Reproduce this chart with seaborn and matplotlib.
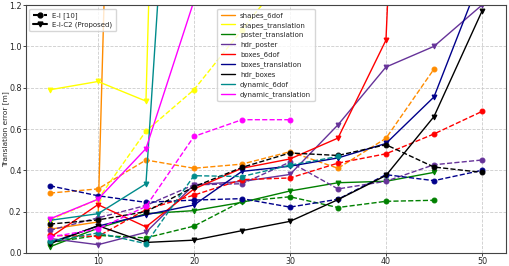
import numpy as np
import pandas as pd
import matplotlib
matplotlib.use("Agg")
import matplotlib.pyplot as plt
from matplotlib.lines import Line2D
import seaborn as sns

# x positions (shared), series cut where they stop
X = [5, 10, 15, 20, 25, 30, 35, 40, 45, 50]

datasets = ['shapes_6dof', 'shapes_translation', 'poster_translation', 'hdr_poster',
            'boxes_6dof', 'boxes_translation', 'hdr_boxes', 'dynamic_6dof',
            'dynamic_translation']
colors = ['darkorange', 'yellow', 'green', 'rebeccapurple', 'red', 'darkblue',
          'black', 'darkcyan', 'magenta']

# E-I [10]  (dashed, circles)
ei_shapes_6dof         = [0.29, 0.31, 0.45, 0.41, 0.43, 0.49, 0.41, 0.555, 0.89]
ei_shapes_translation  = [0.16, 0.26, 0.59, 0.79, 1.08, 1.37]
ei_poster_translation  = [0.05, 0.085, 0.073, 0.13, 0.25, 0.272, 0.22, 0.25, 0.255]
ei_hdr_poster          = [0.11, 0.17, 0.23, 0.33, 0.335, 0.44, 0.31, 0.347, 0.427, 0.45]
ei_boxes_6dof          = [0.085, 0.08, 0.21, 0.28, 0.355, 0.363, 0.435, 0.48, 0.576, 0.685]
ei_boxes_translation   = [0.325, 0.277, 0.245, 0.256, 0.263, 0.222, 0.26, 0.379, 0.35, 0.40]
ei_hdr_boxes           = [0.14, 0.16, 0.20, 0.32, 0.414, 0.484, 0.472, 0.524, 0.416, 0.39]
ei_dynamic_6dof        = [0.056, 0.097, 0.045, 0.374, 0.37, 0.425, 0.467]
ei_dynamic_translation = [0.077, 0.116, 0.225, 0.564, 0.645, 0.645]

# E-I-C2 (Proposed)  (solid, down triangles)
c2_shapes_6dof         = [0.115, 0.15, 8.5]
c2_shapes_translation  = [0.79, 0.83, 0.735, 9.0]
c2_poster_translation  = [0.03, 0.12, 0.19, 0.205, 0.245, 0.30, 0.34, 0.347, 0.39]
c2_hdr_poster          = [0.07, 0.04, 0.10, 0.33, 0.346, 0.38, 0.62, 0.90, 1.0, 1.2]
c2_boxes_6dof          = [0.075, 0.234, 0.126, 0.31, 0.41, 0.455, 0.556, 1.03, 6.3]
c2_boxes_translation   = [0.05, 0.13, 0.185, 0.232, 0.395, 0.42, 0.46, 0.53, 0.755, 1.35]
c2_hdr_boxes           = [0.045, 0.132, 0.051, 0.062, 0.108, 0.153, 0.258, 0.375, 0.66, 1.17]
c2_dynamic_6dof        = [0.158, 0.19, 0.335, 3.9]
c2_dynamic_translation = [0.165, 0.26, 0.505, 1.22]

ei_series = [ei_shapes_6dof, ei_shapes_translation, ei_poster_translation, ei_hdr_poster,
             ei_boxes_6dof, ei_boxes_translation, ei_hdr_boxes, ei_dynamic_6dof,
             ei_dynamic_translation]
c2_series = [c2_shapes_6dof, c2_shapes_translation, c2_poster_translation, c2_hdr_poster,
             c2_boxes_6dof, c2_boxes_translation, c2_hdr_boxes, c2_dynamic_6dof,
             c2_dynamic_translation]

sns.set_style("ticks")
plt.rcParams['font.family'] = ['DejaVu Sans']

fig, ax = plt.subplots(figsize=(5.09, 2.66), dpi=100)
fig.subplots_adjust(left=0.051, right=0.994, bottom=0.049, top=0.981)

for name, col, ei, c2 in zip(datasets, colors, ei_series, c2_series):
    sns.lineplot(x=X[:len(ei)], y=ei, color=col, linestyle='--', marker='o',
                 markersize=3.5, markeredgecolor=col, linewidth=1, ax=ax,
                 legend=False, sort=False)
    sns.lineplot(x=X[:len(c2)], y=c2, color=col, linestyle='-', marker='v',
                 markersize=3.5, markeredgecolor=col, linewidth=1, ax=ax,
                 legend=False, sort=False)

ax.set_xlim(2.5, 52.5)
ax.set_ylim(0, 1.2)
ax.set_xticks([10, 20, 30, 40, 50])
ax.set_yticks([0.0, 0.2, 0.4, 0.6, 0.8, 1.0, 1.2])
ax.tick_params(labelsize=5.8, length=2, width=0.6, pad=1.2)
ax.set_ylabel("Translation error [m]", fontsize=5.3)
ax.yaxis.set_label_coords(-0.036, 0.5)
ax.set_xlabel("")
ax.grid(True, linestyle='--', color='#cccccc', linewidth=0.6)
for s in ax.spines.values():
    s.set_color('#444444')
    s.set_linewidth(0.8)

method_handles = [
    Line2D([0], [0], color='black', linestyle='--', marker='o', markersize=3.5),
    Line2D([0], [0], color='black', linestyle='-', marker='v', markersize=3.5),
]
leg1 = ax.legend(method_handles, ["E-I [10]", "E-I-C2 (Proposed)"], loc='upper left',
                 fontsize=5, handlelength=2, borderpad=0.5, labelspacing=0.4,
                 framealpha=0.8)
ax.add_artist(leg1)

data_handles = [Line2D([0], [0], color=c, linewidth=1) for c in colors]
ax.legend(data_handles, datasets, loc='upper center', fontsize=5, handlelength=2.0,
          borderpad=0.5, labelspacing=0.45, framealpha=0.8)

plt.savefig("out.png", dpi=100)
plt.close()
